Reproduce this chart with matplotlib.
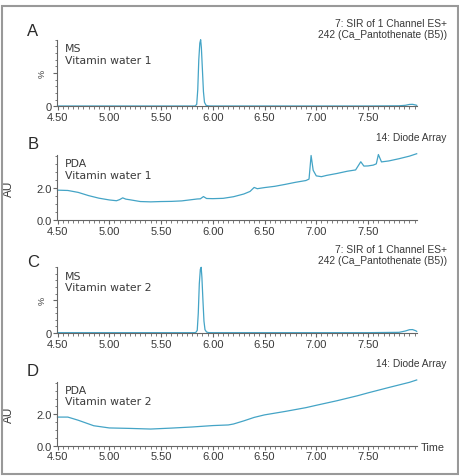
import matplotlib
matplotlib.use("Agg")
import matplotlib.pyplot as plt
from matplotlib.patches import Rectangle
from matplotlib.ticker import MultipleLocator

# ---- data (time in min) ----
ms1_time = [4.50, 5.00, 5.50, 5.80, 5.83, 5.845, 5.855, 5.865, 5.875, 5.883, 5.89,
            5.90, 5.91, 5.92, 5.935, 5.96, 6.00, 6.50, 7.00, 7.50, 7.80, 7.86,
            7.90, 7.93, 7.96, 7.97]
ms1_int = [0.5, 0.5, 0.5, 0.5, 0.6, 3, 25, 70, 95, 100, 88,
           55, 22, 6, 1.5, 0.6, 0.5, 0.5, 0.5, 0.5, 0.8, 1.5,
           2.8, 3.0, 2.0, 1.5]

ms2_time = [4.50, 5.00, 5.50, 5.80, 5.835, 5.85, 5.86, 5.87, 5.88, 5.888, 5.895,
            5.905, 5.915, 5.925, 5.94, 5.96, 6.00, 6.50, 7.00, 7.50, 7.80, 7.86,
            7.90, 7.93, 7.96, 7.97]
ms2_int = [0.5, 0.5, 0.5, 0.5, 0.6, 4, 30, 75, 97, 100, 85,
           50, 18, 5, 1.5, 0.6, 0.5, 0.5, 0.5, 0.5, 1.0, 3.0,
           5.0, 5.2, 3.5, 2.5]

pda1_time = [4.50, 4.60, 4.70, 4.80, 4.90, 5.00, 5.07, 5.10, 5.13, 5.16, 5.20,
             5.30, 5.40, 5.50, 5.60, 5.70, 5.80, 5.85, 5.88, 5.91, 5.94, 6.00,
             6.10, 6.20, 6.30, 6.36, 6.40, 6.43, 6.50, 6.60, 6.70, 6.80, 6.90,
             6.93, 6.95, 6.97, 7.00, 7.05, 7.10, 7.20, 7.30, 7.38, 7.43, 7.46,
             7.50, 7.55, 7.58, 7.60, 7.63, 7.70, 7.80, 7.90, 7.97]
pda1_au = [1.86, 1.84, 1.72, 1.52, 1.36, 1.25, 1.20, 1.27, 1.38, 1.30, 1.26,
           1.15, 1.13, 1.15, 1.16, 1.19, 1.27, 1.31, 1.32, 1.46, 1.34, 1.33,
           1.35, 1.45, 1.62, 1.78, 2.03, 1.95, 2.02, 2.10, 2.22, 2.35, 2.46,
           2.55, 4.02, 3.10, 2.75, 2.70, 2.78, 2.90, 3.04, 3.12, 3.63, 3.36,
           3.37, 3.42, 3.50, 4.08, 3.62, 3.68, 3.82, 3.98, 4.13]

pda2_time = [4.50, 4.60, 4.70, 4.85, 5.00, 5.20, 5.40, 5.60, 5.80, 6.00, 6.15,
             6.20, 6.30, 6.40, 6.50, 6.70, 6.90, 7.00, 7.20, 7.40, 7.50, 7.70,
             7.90, 7.97]
pda2_au = [1.82, 1.82, 1.62, 1.27, 1.13, 1.10, 1.06, 1.12, 1.19, 1.28, 1.32,
           1.38, 1.58, 1.80, 1.96, 2.18, 2.42, 2.57, 2.86, 3.18, 3.36, 3.70,
           4.03, 4.18]

line_col = "#44a4c6"
txt_col = "#3a3a3a"
ax_col = "#666666"

fig = plt.figure(figsize=(4.6, 4.77), dpi=100)
plt.rcParams["font.family"] = ["Liberation Sans", "DejaVu Sans"]

# axes placements: left, bottom, width, height
boxes = [
    [0.125, 0.775, 0.7815, 0.1396],
    [0.125, 0.5367, 0.7815, 0.1369],
    [0.125, 0.2998, 0.7815, 0.1377],
    [0.125, 0.0635, 0.7815, 0.1342],
]
panels = [
    ("A", ms1_time, ms1_int, "ms", "MS\nVitamin water 1"),
    ("B", pda1_time, pda1_au, "pda", "PDA\nVitamin water 1"),
    ("C", ms2_time, ms2_int, "ms", "MS\nVitamin water 2"),
    ("D", pda2_time, pda2_au, "pda", "PDA\nVitamin water 2"),
]
letter_y = [0.933, 0.6975, 0.4493, 0.2208]

for box, (letter, t, y, kind, label), ly in zip(boxes, panels, letter_y):
    ax = fig.add_axes(box)
    ax.plot(t, y, color=line_col, lw=0.9, clip_on=False)
    ax.set_xlim(4.5, 7.973)
    for s in ["top", "right"]:
        ax.spines[s].set_visible(False)
    for s in ["left", "bottom"]:
        ax.spines[s].set_color(ax_col)
        ax.spines[s].set_linewidth(0.8)
    ax.set_xticks([4.5, 5.0, 5.5, 6.0, 6.5, 7.0, 7.5])
    ax.set_xticklabels(["4.50", "5.00", "5.50", "6.00", "6.50", "7.00", "7.50"])
    ax.xaxis.set_minor_locator(MultipleLocator(0.05))
    if kind == "ms":
        ax.set_ylim(0, 100)
        ax.set_yticks([0, 50])
        ax.set_yticklabels(["0", ""])
        ax.yaxis.set_minor_locator(MultipleLocator(10))
        ax.set_ylabel("%", fontsize=6.5, color=txt_col)
        ax.yaxis.set_label_coords(-0.03, 0.5)
    else:
        ax.set_ylim(0, 4.07)
        ax.set_yticks([0, 2.0])
        ax.set_yticklabels(["0.0", "2.0"])
        ax.yaxis.set_minor_locator(MultipleLocator(0.5))
        ax.set_ylabel("AU", fontsize=8.5, color=txt_col)
        ax.yaxis.set_label_coords(-0.118, 0.5)
    ax.tick_params(which="major", length=3, width=0.8, color=ax_col,
                   labelsize=8, labelcolor=txt_col, pad=1)
    ax.tick_params(which="minor", length=1.8, width=0.6, color=ax_col)
    ax.text(0.02, 0.95, label, transform=ax.transAxes, ha="left", va="top",
            fontsize=7.8, color=txt_col, family="DejaVu Sans", linespacing=1.2)
    fig.text(0.0717, ly, letter, fontsize=12, color="#2a2a2a",
             ha="center", va="center")

# channel descriptions, top right
fig.text(0.971, 0.9497, "7: SIR of 1 Channel ES+", fontsize=7.4, color=txt_col,
         ha="right", va="center")
fig.text(0.971, 0.9273, "242 (Ca_Pantothenate (B5))", fontsize=7.4, color=txt_col,
         ha="right", va="center")
fig.text(0.971, 0.7113, "14: Diode Array", fontsize=7.4, color=txt_col,
         ha="right", va="center")
fig.text(0.971, 0.4759, "7: SIR of 1 Channel ES+", fontsize=7.4, color=txt_col,
         ha="right", va="center")
fig.text(0.971, 0.4520, "242 (Ca_Pantothenate (B5))", fontsize=7.4, color=txt_col,
         ha="right", va="center")
fig.text(0.971, 0.2363, "14: Diode Array", fontsize=7.4, color=txt_col,
         ha="right", va="center")
fig.text(0.915, 0.060, "Time", fontsize=7.8, color=txt_col, ha="left", va="center")

# outer frame
fig.patches.append(Rectangle((0.0035, 0.0045), 0.993, 0.980, transform=fig.transFigure,
                             fill=False, edgecolor="#999999", lw=1.5))

plt.savefig("out.png", dpi=100)
